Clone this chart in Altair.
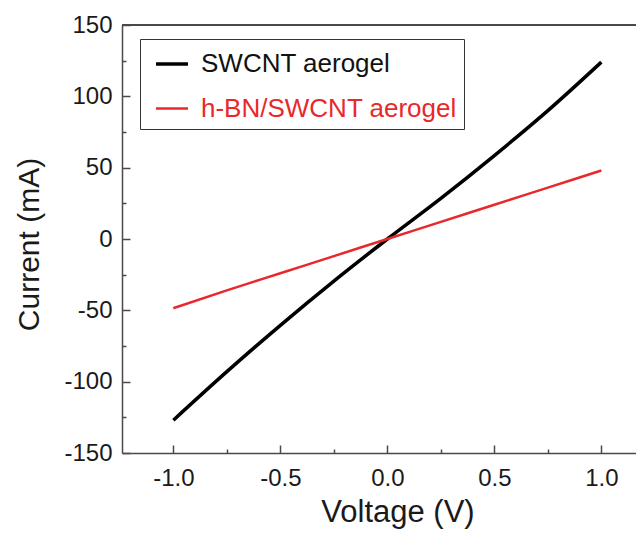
import altair as alt
import pandas as pd

# ---- data ----
voltage = [-1.0, -0.75, -0.5, -0.25, 0.0, 0.25, 0.5, 0.75, 1.0]
swcnt = [-127.0, -93.0, -60.5, -29.5, 0.0, 28.5, 58.5, 90.0, 124.0]
hbn_swcnt = [-48.5, -36.0, -24.0, -12.0, 0.0, 12.0, 24.0, 36.0, 48.0]
series_names = ["SWCNT aerogel", "h-BN/SWCNT aerogel"]
series_colors = ["#000000", "#e8282b"]
series_widths = [3.5, 2.5]
x_ticks = [-1.0, -0.75, -0.5, -0.25, 0.0, 0.25, 0.5, 0.75, 1.0]
y_ticks = [-150, -125, -100, -75, -50, -25, 0, 25, 50, 75, 100, 125, 150]

rows = []
for v, a in zip(voltage, swcnt):
    rows.append({"Voltage": v, "Current": a, "series": series_names[0]})
for v, b in zip(voltage, hbn_swcnt):
    rows.append({"Voltage": v, "Current": b, "series": series_names[1]})
df = pd.DataFrame(rows)

W, H = 514, 428
X_MIN = -1.24
X_MAX = X_MIN + W / 214.0
FONT = "Liberation Sans"
AXC = "#4a4a4a"

x_axis = alt.Axis(
    values=x_ticks,
    labelExpr="datum.value % 0.5 === 0 ? (datum.value < 0 ? '-' : '') + format(abs(datum.value), '.1f') : ''",
    tickSize={"condition": {"test": "datum.value % 0.5 === 0", "value": -8}, "value": -4},
    labelPadding=21,
    labelFont=FONT, labelFontSize=24, labelColor="#1a1a1a",
    title="Voltage (V)", titleFont=FONT, titleFontSize=31, titleFontWeight="normal",
    titleColor="#1a1a1a", titleBaseline="alphabetic", titleY=68, titleX=275.5,
    domainColor=AXC, domainWidth=1.5, tickColor=AXC, tickWidth=1.5, grid=False,
    labelFlush=False, labelOverlap=False,
)
y_axis = alt.Axis(
    values=y_ticks,
    labelExpr="datum.value % 50 === 0 ? (datum.value < 0 ? '-' : '') + format(abs(datum.value), 'd') : ''",
    tickSize={"condition": {"test": "datum.value % 50 === 0", "value": -8}, "value": -4},
    labelPadding=18,
    labelFont=FONT, labelFontSize=24, labelColor="#1a1a1a",
    title="Current (mA)", titleFont=FONT, titleFontSize=30, titleFontWeight="normal",
    titleColor="#1a1a1a", titleBaseline="alphabetic", titleAngle=-90,
    titleX=-84, titleY=219, titleAlign="center",
    domainColor=AXC, domainWidth=1.5, tickColor=AXC, tickWidth=1.5, grid=False,
    labelFlush=False, labelOverlap=False,
)

lines = alt.Chart(df).mark_line(interpolate="monotone").encode(
    x=alt.X("Voltage:Q", scale=alt.Scale(domain=[X_MIN, X_MAX], nice=False, zero=False), axis=x_axis),
    y=alt.Y("Current:Q", scale=alt.Scale(domain=[-150, 150], nice=False), axis=y_axis),
    color=alt.Color(
        "series:N",
        scale=alt.Scale(domain=series_names, range=series_colors),
        sort=series_names,
        legend=alt.Legend(
            title=None, orient="none", legendX=18, legendY=14,
            symbolType="stroke", symbolSize=1024, symbolStrokeWidth=3, symbolOffset=7,
            labelFont=FONT, labelFontSize=26, labelOffset=11, labelLimit=400,
            labelExpr="datum.label + '\u00a0\u00a0'",
            labelColor={"expr": "datum.value === 'h-BN/SWCNT aerogel' ? '#e8282b' : '#111111'"},
            rowPadding=14, padding=7, strokeColor="#333333",
        ),
    ),
    strokeWidth=alt.StrokeWidth("series:N", scale=alt.Scale(domain=series_names, range=series_widths), legend=None),
    detail="series:N",
)

top_line = alt.Chart(df).mark_rule(color=AXC, strokeWidth=1.5).encode(
    x=alt.value(0), x2=alt.value(W), y=alt.value(0)
)

chart = alt.layer(lines, top_line).properties(
    width=W, height=H,
    autosize=alt.AutoSizeParams(type="none"),
    padding={"left": 114, "top": 17, "right": 0, "bottom": 80},
    background="white",
).configure_view(stroke=None)

chart.save("out.html", embed_options={"renderer": "svg", "actions": False})
